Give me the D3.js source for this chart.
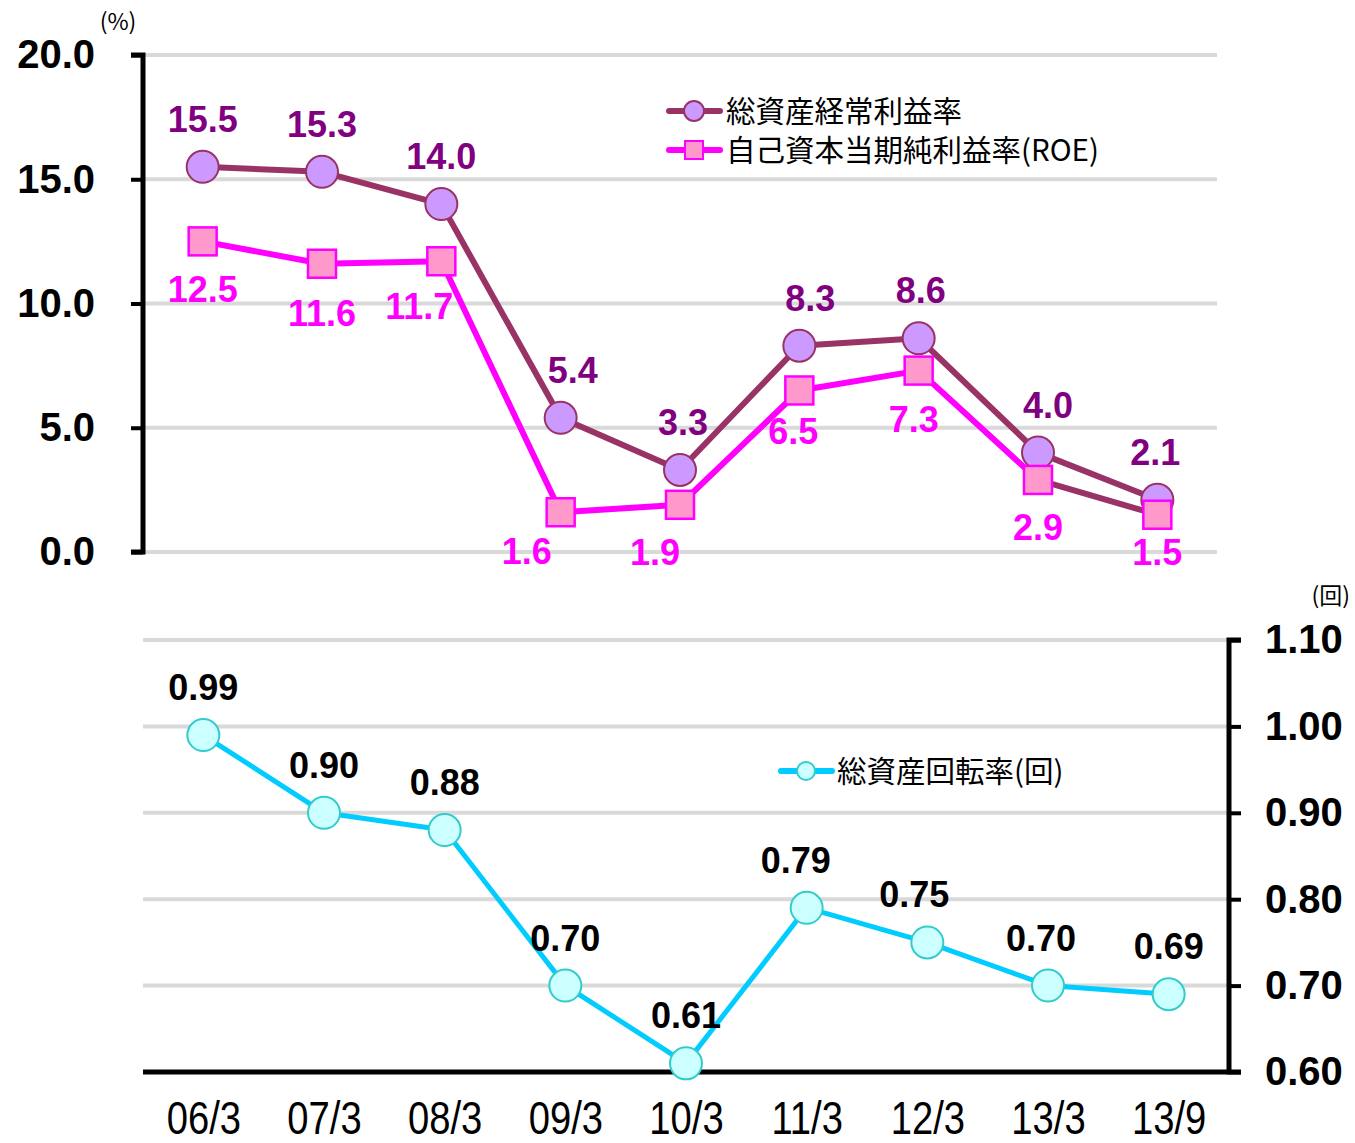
<!DOCTYPE html>
<html><head><meta charset="utf-8">
<script src="https://cdn.jsdelivr.net/npm/d3@7"></script>
<style>body{margin:0;background:#fff}</style>
</head><body>
<script>
const categories = ["06/3","07/3","08/3","09/3","10/3","11/3","12/3","13/3","13/9"];
const ordinaryProfitRatio = [15.5,15.3,14.0,5.4,3.3,8.3,8.6,4.0,2.1];
const roe = [12.5,11.6,11.7,1.6,1.9,6.5,7.3,2.9,1.5];
const assetTurnover = [0.99,0.90,0.88,0.70,0.61,0.79,0.75,0.70,0.69];
const topTicks = [0,5,10,15,20];
const bottomTicks = [0.6,0.7,0.8,0.9,1.0,1.1];
const legendTop = ["総資産経常利益率","自己資本当期純利益率(ROE)"];
const legendBottom = "総資産回転率(回)";
// label nudges (layout only)
const roeLabelDx = [0,0,-22,-34,-25,-6,-5,0,0];
const roeLabelDy = [48,49,45,39,47,41,48,47,37];
const oprLabelDx = [0,0,0,12,3,11,2,10,-2];
const atLabelDx = [0,0,0,0,0,-11,-13,-7,0];

const W=1355,H=1143;
const svg=d3.select("body").append("svg").attr("width",W).attr("height",H);
const numFont="'Liberation Sans',Arial,sans-serif";
const jpFont="'Noto Sans CJK JP',sans-serif";

// ---------- top chart ----------
const xT=d3.scalePoint().domain(categories).range([143,1217]).padding(0.5);
const yT=d3.scaleLinear().domain([0,20]).range([552,55]);
const gT=svg.append("g");
gT.selectAll("line.grid").data(topTicks).join("line")
 .attr("x1",143).attr("x2",1217).attr("y1",d=>yT(d)).attr("y2",d=>yT(d))
 .attr("stroke","#d9d9d9").attr("stroke-width",4);
const axT=d3.axisLeft(yT).tickValues(topTicks).tickSize(12).tickFormat(d3.format(".1f"));
const aT=gT.append("g").attr("transform","translate(143,0)").call(axT);
aT.select(".domain").attr("stroke","#000").attr("stroke-width",5).attr("d","M-12,55H0V552H-12");
aT.selectAll(".tick line").attr("stroke","#000").attr("stroke-width",4);
aT.selectAll(".tick text").attr("x",-48).attr("font-family",numFont).attr("font-weight","bold").attr("font-size",40).attr("fill","#000");
svg.append("text").attr("x",118).attr("y",30).attr("text-anchor","middle").attr("font-family",jpFont).attr("font-size",23).text("(%)");

const line=d3.line();
// series 1
const p1=categories.map((c,i)=>[xT(c),yT(ordinaryProfitRatio[i])]);
gT.append("path").attr("d",line(p1)).attr("fill","none").attr("stroke","#993366").attr("stroke-width",6).attr("stroke-linejoin","round");
gT.selectAll("circle.s1").data(p1).join("circle").attr("cx",d=>d[0]).attr("cy",d=>d[1]).attr("r",16)
 .attr("fill","#cc99ff").attr("stroke","#993366").attr("stroke-width",2);
// series 2
const p2=categories.map((c,i)=>[xT(c),yT(roe[i])]);
const segs=d3.pairs(p2);
gT.selectAll("line.s2").data(segs).join("line")
 .attr("x1",d=>d[0][0]).attr("y1",d=>d[0][1]).attr("x2",d=>d[1][0]).attr("y2",d=>d[1][1])
 .attr("stroke",(d,i)=>i===segs.length-1?"#993366":"#ff00ff").attr("stroke-width",6).attr("stroke-linecap","round");
gT.selectAll("rect.s2").data(p2).join("rect").attr("x",d=>d[0]-14).attr("y",d=>d[1]-14).attr("width",28).attr("height",28)
 .attr("fill","#ff99cc").attr("stroke","#ff00ff").attr("stroke-width",2.5);
// labels
gT.selectAll("text.l1").data(ordinaryProfitRatio).join("text")
 .attr("x",(d,i)=>xT(categories[i])+oprLabelDx[i]).attr("y",(d,i)=>yT(d)-48).attr("dy","0.36em")
 .attr("text-anchor","middle").attr("font-family",numFont).attr("font-weight","bold").attr("font-size",36).attr("fill","#800080")
 .text(d=>d.toFixed(1));
gT.selectAll("text.l2").data(roe).join("text")
 .attr("x",(d,i)=>xT(categories[i])+roeLabelDx[i]).attr("y",(d,i)=>yT(d)+roeLabelDy[i]).attr("dy","0.36em")
 .attr("text-anchor","middle").attr("font-family",numFont).attr("font-weight","bold").attr("font-size",36).attr("fill","#ff00ff")
 .text(d=>d.toFixed(1));
// legend top
const lg=svg.append("g");
[[111,"#993366"],[150,"#ff00ff"]].forEach(([y,c],i)=>{
  lg.append("line").attr("x1",669).attr("x2",720).attr("y1",y).attr("y2",y).attr("stroke",c).attr("stroke-width",6).attr("stroke-linecap","round");
  if(i===0) lg.append("circle").attr("cx",694).attr("cy",y).attr("r",10).attr("fill","#cc99ff").attr("stroke","#993366").attr("stroke-width",2);
  else lg.append("rect").attr("x",685).attr("y",y-9).attr("width",18).attr("height",18).attr("fill","#ff99cc").attr("stroke","#ff00ff").attr("stroke-width",2);
  lg.append("text").attr("x",726).attr("y",y).attr("dy","0.36em").attr("font-family",jpFont).attr("font-size",29.5).attr("fill","#000").text(legendTop[i]);
});

// ---------- bottom chart ----------
const xB=d3.scalePoint().domain(categories).range([143,1229]).padding(0.5);
const yB=d3.scaleLinear().domain([0.6,1.1]).range([1072,640]);
const gB=svg.append("g");
gB.selectAll("line.grid").data(bottomTicks.slice(1)).join("line")
 .attr("x1",143).attr("x2",1229).attr("y1",d=>yB(d)).attr("y2",d=>yB(d))
 .attr("stroke","#d9d9d9").attr("stroke-width",4);
const axB=d3.axisRight(yB).tickValues(bottomTicks).tickSize(12).tickFormat(d3.format(".2f"));
const aB=gB.append("g").attr("transform","translate(1229,0)").call(axB);
aB.select(".domain").attr("stroke","#000").attr("stroke-width",5).attr("d","M12,640H0V1072H12");
aB.selectAll(".tick line").attr("stroke","#000").attr("stroke-width",4);
aB.selectAll(".tick text").attr("x",36).attr("font-family",numFont).attr("font-weight","bold").attr("font-size",40).attr("fill","#000");
// x axis
const axX=d3.axisBottom(xB).tickSize(0).tickPadding(0);
const aX=gB.append("g").attr("transform","translate(0,1072)").call(axX);
aX.select(".domain").attr("stroke","#000").attr("stroke-width",5).attr("d","M143,0H1229");
aX.selectAll(".tick text").attr("y",0).attr("dy",0)
 .attr("transform","translate(0,62) scale(0.83,1)")
 .attr("font-family",numFont).attr("font-size",46).attr("fill","#000");
svg.append("text").attr("x",1350).attr("y",604).attr("text-anchor","end").attr("font-family",jpFont).attr("font-size",23).text("(回)");

const p3=categories.map((c,i)=>[xB(c),yB(assetTurnover[i])]);
gB.append("path").attr("d",line(p3)).attr("fill","none").attr("stroke","#00ccff").attr("stroke-width",5).attr("stroke-linejoin","round");
gB.selectAll("circle.s3").data(p3).join("circle").attr("cx",d=>d[0]).attr("cy",d=>d[1]).attr("r",16)
 .attr("fill","#ccffff").attr("stroke","#33cccc").attr("stroke-width",2);
gB.selectAll("text.l3").data(assetTurnover).join("text")
 .attr("x",(d,i)=>xB(categories[i])+atLabelDx[i]).attr("y",(d,i)=>yB(d)-48).attr("dy","0.36em")
 .attr("text-anchor","middle").attr("font-family",numFont).attr("font-weight","bold").attr("font-size",36).attr("fill","#000")
 .text(d=>d.toFixed(2));
// legend bottom
svg.append("line").attr("x1",781).attr("x2",832).attr("y1",771).attr("y2",771).attr("stroke","#00ccff").attr("stroke-width",6).attr("stroke-linecap","round");
svg.append("circle").attr("cx",806).attr("cy",771).attr("r",9).attr("fill","#ccffff").attr("stroke","#33cccc").attr("stroke-width",2);
svg.append("text").attr("x",837).attr("y",771).attr("dy","0.36em").attr("font-family",jpFont).attr("font-size",29.5).attr("fill","#000").text(legendBottom);
</script>
</body></html>
